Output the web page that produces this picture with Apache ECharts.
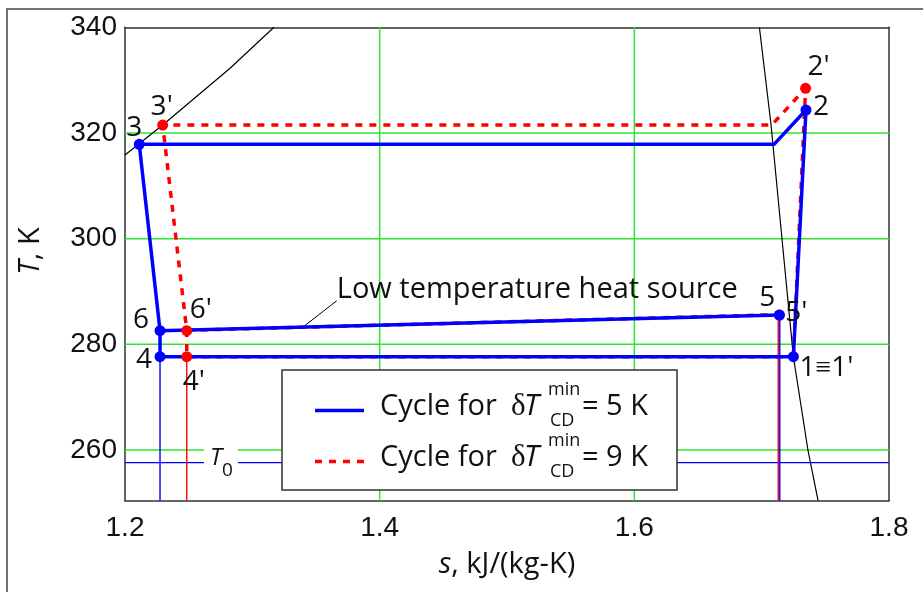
<!DOCTYPE html>
<html><head><meta charset="utf-8">
<script src="https://cdn.jsdelivr.net/npm/echarts@6/dist/echarts.min.js"></script>
<style>html,body{margin:0;padding:0;background:#fff}#c{width:923px;height:592px}</style>
</head><body><div id="c"></div>
<script>
// ---------- axes ----------
const sRange = [1.2, 1.8];
const TRange = [250.4, 340];
const xTicks = [1.2, 1.4, 1.6, 1.8];
const yTicks = [260, 280, 300, 320, 340];
const xGrid = [1.4, 1.6];
const yGrid = [260, 280, 300, 320];

// ---------- saturation dome ----------
const domeLeftS = [1.2, 1.2296, 1.2825, 1.317];
const domeLeftT = [315.83, 321.5, 332.24, 340];
const domeRightS = [1.6982, 1.7073, 1.7183, 1.7249, 1.7364, 1.7443];
const domeRightT = [340, 321.7, 294.1, 277.65, 259.9, 250.4];

// ---------- cycle dT_CD = 5 K (blue): 1,2,c,3,6,4,1 ----------
const blueS = [1.7249, 1.7348, 1.7097, 1.2112, 1.2275, 1.2275, 1.7249];
const blueT = [277.65, 324.35, 317.85, 317.85, 282.57, 277.65, 277.65];
const blueSourceS = [1.2275, 1.7139];   // 6 -> 5
const blueSourceT = [282.57, 285.54];

// ---------- cycle dT_CD = 9 K (red): 1',2',c',3',6',4',1' ----------
const redS = [1.7249, 1.7345, 1.7079, 1.2296, 1.2485, 1.2485, 1.7249];
const redT = [277.65, 328.45, 321.5, 321.5, 282.57, 277.65, 277.65];
const redSourceS = [1.2485, 1.7139];    // 6' -> 5
const redSourceT = [282.65, 285.62];

// ---------- named state points ----------
const bluePtNames = ['1≡1\'', '2', '3', '6', '4', '5'];
const bluePtS = [1.7249, 1.7348, 1.2112, 1.2275, 1.2275, 1.7139];
const bluePtT = [277.65, 324.35, 317.85, 282.57, 277.65, 285.54];
const redPtNames = ['2\'', '3\'', '6\'', '4\'', '5\''];
const redPtS = [1.7345, 1.2296, 1.2485, 1.2485, 1.7139];
const redPtT = [328.45, 321.5, 282.57, 277.65, 285.54];

// ---------- vertical drop lines ----------
const blueDropS = [1.2275, 1.7142];
const blueDropT = [277.65, 285.54];
const redDropS = [1.2485, 1.7130];
const redDropT = [277.65, 285.54];

// ---------- dead state and heat source annotation ----------
const deadStateT = 257.6;
const sourceLeaderS = [1.3398, 1.3663];
const sourceLeaderT = [283.27, 288.25];
const sourceText = 'Low temperature heat source';

// ---------- legend ----------
const legendValues = ['= 5 K', '= 9 K'];

// ================= styles =================
const BLUE = '#0000ff', RED = '#ff0000', GREEN = '#2ee62e', INK = '#111111';
const LABEL_FONT = 'Open Sans';
const labelOffsets = {
  '1≡1\'': [33, 11], '2': [15, -3], '3': [-5, -16], '6': [-19, -11], '4': [-16, 3], '5': [-12, -17],
  '2\'': [13, -21], '3\'': [-1, -18], '6\'': [14, -21], '4\'': [7, 25], '5\'': [17, -2]
};
const zip = (a, b) => a.map((v, i) => [v, b[i]]);
const base = { type: 'line', symbol: 'none', silent: true, animation: false, z: 2 };
const series = [];

yGrid.forEach(y => series.push({ ...base, data: [[sRange[0], y], [sRange[1], y]], lineStyle: { color: GREEN, width: 1.5 } }));
xGrid.forEach(x => series.push({ ...base, data: [[x, TRange[0]], [x, TRange[1]]], lineStyle: { color: GREEN, width: 1.5 } }));

series.push({ ...base, data: zip(domeLeftS, domeLeftT), lineStyle: { color: '#000', width: 1.2 } });
series.push({ ...base, data: zip(domeRightS, domeRightT), lineStyle: { color: '#000', width: 1.2 } });

series.push({ ...base, data: [[sRange[0], deadStateT], [sRange[1], deadStateT]], lineStyle: { color: BLUE, width: 1.2 } });

redDropS.forEach((s, i) => series.push({ ...base, data: [[s, redDropT[i]], [s, TRange[0]]], lineStyle: { color: RED, width: 1.4 } }));
blueDropS.forEach((s, i) => series.push({ ...base, data: [[s, blueDropT[i]], [s, TRange[0]]], lineStyle: { color: BLUE, width: 1.4 } }));

series.push({ ...base, data: zip(sourceLeaderS, sourceLeaderT), lineStyle: { color: '#000', width: 1 } });

series.push({ ...base, data: zip(redSourceS, redSourceT), lineStyle: { color: RED, width: 3.5, type: [7, 7] } });
series.push({ ...base, data: zip(redS, redT), lineStyle: { color: RED, width: 3.5, type: [7, 7] } });
series.push({ ...base, data: zip(blueSourceS, blueSourceT), lineStyle: { color: BLUE, width: 3.5 } });
series.push({ ...base, data: zip(blueS, blueT), lineStyle: { color: BLUE, width: 3.5 } });

function ptLabel(name) {
  return { show: true, position: 'inside', formatter: name, offset: labelOffsets[name],
    fontFamily: LABEL_FONT, fontSize: 28, color: INK };
}
series.push({ type: 'scatter', silent: true, animation: false, symbolSize: 11, z: 3,
  itemStyle: { color: RED, opacity: 1 },
  data: redPtNames.map((n, i) => ({ value: [redPtS[i], redPtT[i]], label: ptLabel(n) })) });
series.push({ type: 'scatter', silent: true, animation: false, symbolSize: 11, z: 4,
  itemStyle: { color: BLUE, opacity: 1 },
  data: bluePtNames.map((n, i) => ({ value: [bluePtS[i], bluePtT[i]], label: ptLabel(n) })) });

// annotation anchors (T0 label, heat-source label)
series.push({ type: 'scatter', silent: true, animation: false, symbolSize: 1, z: 5,
  itemStyle: { color: 'rgba(255,255,255,0)', opacity: 1 },
  data: [
    { value: [sRange[0], deadStateT], label: { show: true, position: 'inside', align: 'left', offset: [79, 0],
        formatter: '{t|T}{s|0}', backgroundColor: '#fff', padding: [0, 5, 0, 6],
        rich: { t: { fontFamily: LABEL_FONT, fontStyle: 'italic', fontSize: 24, lineHeight: 34, verticalAlign: 'top', color: INK },
                s: { fontFamily: LABEL_FONT, fontSize: 19, lineHeight: 34, verticalAlign: 'bottom', color: INK } } } },
    { value: [sourceLeaderS[1], sourceLeaderT[1]], label: { show: true, position: 'inside', align: 'left', offset: [0, -11],
        formatter: sourceText, fontFamily: LABEL_FONT, fontSize: 29, color: INK } }
  ] });

const G = [];
// outer frame
G.push({ type: 'polyline', z: 100, shape: { points: [[7, 600], [7, 9], [930, 9]] }, style: { stroke: '#444', lineWidth: 1.5, fill: null } });
// legend box
G.push({ type: 'rect', z: 100, shape: { x: 282, y: 370, width: 395, height: 120 }, style: { fill: '#fff', stroke: '#333', lineWidth: 1.5 } });
const rowY = [410.5, 461.5];
const lineStyles = [{ stroke: BLUE, lineWidth: 3.5 }, { stroke: RED, lineWidth: 3.5, lineDash: [7, 7] }];
rowY.forEach((y, i) => {
  G.push({ type: 'line', z: 101, shape: { x1: 315, y1: y, x2: 364, y2: y }, style: lineStyles[i] });
  const ty = y - 4;
  const txt = (x, t, font, yy, al) => G.push({ type: 'text', z: 101, style: { x: x, y: yy, text: t, font: font, fill: INK,
      textAlign: al || 'left', align: al || 'left', textVerticalAlign: 'middle', verticalAlign: 'middle' } });
  txt(380, 'Cycle for', '29px "Open Sans"', ty);
  txt(511, 'δ', '31px "Liberation Serif"', ty);
  txt(524, 'T', 'italic 30px "Open Sans"', ty);
  txt(548, 'min', '18px "Open Sans"', ty - 17);
  txt(550, 'CD', '18px "Open Sans"', ty + 14);
  txt(582, legendValues[i], '29px "Open Sans"', ty);
});

const option = {
  animation: false,
  grid: { left: 125, top: 27.3, right: 34, bottom: 91.3, containLabel: false },
  xAxis: [
    { type: 'value', min: sRange[0], max: sRange[1], interval: 0.2,
      axisLine: { show: true, lineStyle: { color: '#333', width: 1.5 } }, axisTick: { show: false }, splitLine: { show: false },
      axisLabel: { margin: 14, fontFamily: 'Liberation Sans', fontSize: 28, color: INK, formatter: v => v.toFixed(1), showMinLabel: true, showMaxLabel: true },
      name: '{i|s}, kJ/(kg-K)', nameLocation: 'middle', nameGap: 50,
      nameTextStyle: { fontFamily: LABEL_FONT, fontSize: 29, color: INK, rich: { i: { fontFamily: LABEL_FONT, fontStyle: 'italic', fontSize: 29, color: INK } } } },
    { type: 'value', position: 'top', min: sRange[0], max: sRange[1],
      axisLine: { show: true, onZero: false, lineStyle: { color: '#333', width: 1.5 } }, axisTick: { show: false }, axisLabel: { show: false }, splitLine: { show: false } }
  ],
  yAxis: [
    { type: 'value', min: TRange[0], max: TRange[1],
      axisLine: { show: true, onZero: false, lineStyle: { color: '#333', width: 1.5 } }, axisTick: { show: false }, splitLine: { show: false },
      axisLabel: { customValues: yTicks, margin: 8, fontFamily: 'Liberation Sans', fontSize: 28, color: INK, showMinLabel: true, showMaxLabel: true },
      name: '{i|T}, K', nameLocation: 'middle', nameRotate: 90, nameGap: 80,
      nameTextStyle: { fontFamily: LABEL_FONT, fontSize: 29, color: INK, padding: [0, 0, 0, 26],
        rich: { i: { fontFamily: LABEL_FONT, fontStyle: 'italic', fontSize: 29, color: INK } } } },
    { type: 'value', position: 'right', min: TRange[0], max: TRange[1],
      axisLine: { show: true, onZero: false, lineStyle: { color: '#333', width: 1.5 } }, axisTick: { show: false }, axisLabel: { show: false }, splitLine: { show: false } }
  ],
  series: series,
  graphic: G
};
const chart = echarts.init(document.getElementById('c'));
chart.setOption(option);
</script>
</body></html>
